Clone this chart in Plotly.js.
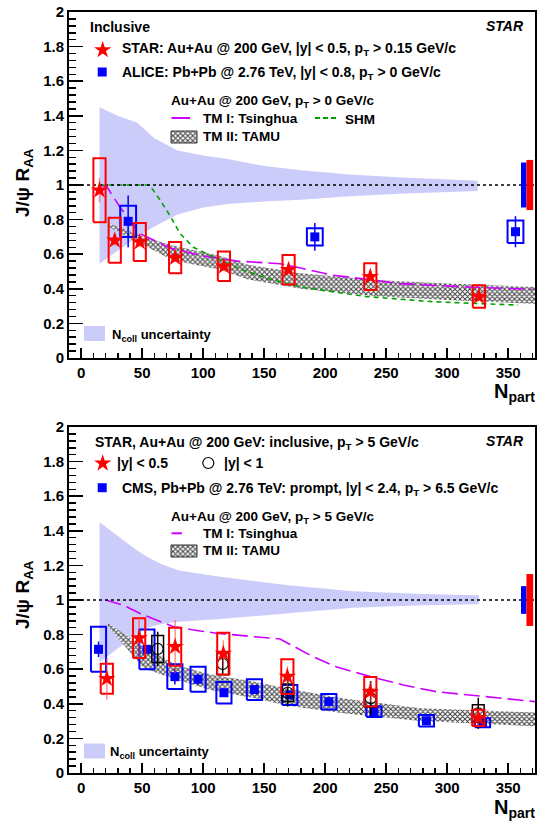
<!DOCTYPE html>
<html>
<head>
<meta charset="utf-8">
<script src="https://cdn.plot.ly/plotly-3.0.1.min.js"></script>
<style>
  html, body { margin: 0; padding: 0; background: #ffffff; }
  #chart { width: 538px; height: 822px; }
</style>
</head>
<body>
<div id="chart"></div>
<script>
// ---------------- Upper panel: inclusive J/psi ----------------
// STAR Au+Au 200 GeV, |y|<0.5, pT>0.15 GeV/c
const starInclNpart = [15, 27.5, 48, 77, 117, 170, 237, 326];
const starInclRaa   = [0.97, 0.68, 0.67, 0.58, 0.53, 0.51, 0.47, 0.355];
const starInclStat  = [0.07, 0.03, 0.03, 0.025, 0.02, 0.02, 0.02, 0.02];
const starInclSys   = [0.185, 0.13, 0.11, 0.09, 0.085, 0.085, 0.077, 0.065];

// ALICE Pb+Pb 2.76 TeV, |y|<0.8, pT>0
const aliceNpart = [38.5, 191.5, 356];
const aliceRaa   = [0.79, 0.70, 0.73];
const aliceStat  = [0.15, 0.08, 0.09];
const aliceSys   = [0.09, 0.05, 0.065];

// Model curves, pT > 0
const tsingLowNpart = [15, 21, 32, 48, 73, 100, 128, 163, 180, 205, 245, 261, 316, 370];
const tsingLowRaa   = [1.0, 0.99, 0.87, 0.72, 0.635, 0.59, 0.56, 0.545, 0.52, 0.48, 0.445, 0.43, 0.41, 0.397];

const shmNpart = [15, 56, 65, 73, 81, 92, 108, 134, 155, 180, 234, 289, 358];
const shmRaa   = [1.0, 1.0, 0.91, 0.82, 0.72, 0.64, 0.585, 0.505, 0.455, 0.41, 0.355, 0.325, 0.306];

const tamuLowNpart = [22, 48, 75, 114, 136, 180, 245, 300, 375];
const tamuLowHigh  = [0.78, 0.71, 0.65, 0.59, 0.54, 0.49, 0.45, 0.43, 0.41];
const tamuLowLow   = [0.76, 0.665, 0.565, 0.51, 0.455, 0.40, 0.355, 0.335, 0.312];

// N_coll uncertainty band around unity
const ncollLowNpart = [15, 30, 46, 60, 79, 100, 120, 150, 180, 220, 260, 300, 325];
const ncollLowHigh  = [1.45, 1.40, 1.36, 1.27, 1.20, 1.17, 1.15, 1.11, 1.085, 1.06, 1.045, 1.03, 1.025];
const ncollLowLow   = [0.545, 0.62, 0.70, 0.76, 0.83, 0.87, 0.89, 0.905, 0.915, 0.935, 0.95, 0.96, 0.965];

// Global uncertainties drawn at unity
const globalAliceLow = 0.13;
const globalStarLow  = 0.145;

// ---------------- Lower panel: high-pT J/psi ----------------
// STAR, |y|<0.5, pT>5 GeV/c
const starHighNpart = [21, 47.5, 77, 116.5, 169, 237, 325.5];
const starHighRaa   = [0.545, 0.78, 0.73, 0.69, 0.557, 0.47, 0.318];
const starHighStat  = [0.12, 0.12, 0.155, 0.077, 0.06, 0.06, 0.05];
const starHighSys   = [0.087, 0.115, 0.11, 0.12, 0.10, 0.085, 0.047];

// STAR, |y|<1, pT>5 GeV/c
const starWideNpart = [62.7, 116, 169.3, 237.3, 325.5];
const starWideRaa   = [0.717, 0.63, 0.464, 0.432, 0.345];
const starWideStat  = [0.10, 0.06, 0.08, 0.10, 0.09];
const starWideSys   = [0.078, 0.062, 0.05, 0.05, 0.05];

// CMS prompt J/psi, |y|<2.4, pT>6.5 GeV/c
const cmsNpart = [14.2, 53.9, 76.8, 95.8, 117, 142, 171, 203, 240, 283, 329];
const cmsRaa   = [0.715, 0.715, 0.557, 0.542, 0.464, 0.482, 0.451, 0.412, 0.354, 0.302, 0.29];
const cmsStat  = [0.045, 0.02, 0.045, 0.03, 0.025, 0.02, 0.02, 0.015, 0.015, 0.012, 0.012];
const cmsSys   = [0.13, 0.115, 0.072, 0.072, 0.062, 0.06, 0.058, 0.045, 0.03, 0.033, 0.026];

// Model curves, pT > 5 GeV/c
const tsingHighNpart = [20, 34.5, 48, 62, 75.5, 92, 111, 141, 163, 190, 209, 237, 264, 291, 319, 373];
const tsingHighRaa   = [1.0, 0.97, 0.923, 0.884, 0.846, 0.827, 0.808, 0.788, 0.775, 0.672, 0.614, 0.557, 0.509, 0.47, 0.451, 0.412];

const tamuHighNpart = [22, 51, 78, 106, 144, 168, 215, 278, 373];
const tamuHighHigh  = [0.865, 0.73, 0.625, 0.57, 0.525, 0.49, 0.43, 0.375, 0.35];
const tamuHighLow   = [0.85, 0.605, 0.54, 0.48, 0.43, 0.39, 0.345, 0.30, 0.27];

const ncollHighNpart = [15, 30, 45, 54, 65, 80, 114, 168, 223, 280, 326];
const ncollHighHigh  = [1.45, 1.37, 1.29, 1.25, 1.21, 1.17, 1.135, 1.087, 1.05, 1.035, 1.028];
const ncollHighLow   = [0.64, 0.72, 0.80, 0.84, 0.86, 0.875, 0.89, 0.92, 0.955, 0.97, 0.975];

const globalCmsHigh  = 0.08;
const globalStarHigh = 0.15;

// Axis tick values
const xTicks = [0, 50, 100, 150, 200, 250, 300, 350];
const yTicks = [0, 0.2, 0.4, 0.6, 0.8, 1, 1.2, 1.4, 1.6, 1.8, 2];

// ---------------- styling ----------------
const FONT = 'Liberation Sans, Arial, Helvetica, sans-serif';
const RED = '#ff0000', BLUE = '#0000ff', MAGENTA = '#cc00ff', GREEN = '#00a000';
const LAVENDER = '#ccccfa';
const HATCH = {shape: 'x', fgcolor: '#404040', bgcolor: '#ffffff', size: 3.5, solidity: 0.5};

// page geometry (plot area in pixels)
const L = 69, R = 535, T = 12, B = 773;
const W = 538, H = 822;

function bandTrace(xs, hi, lo, xa, ya, extra) {
  return Object.assign({
    type: 'scatter', mode: 'lines', xaxis: xa, yaxis: ya,
    x: xs.concat(xs.slice().reverse()),
    y: hi.concat(lo.slice().reverse()),
    fill: 'toself', line: {width: 0}, hoverinfo: 'skip', showlegend: false
  }, extra);
}

function curveTrace(xs, ys, color, dash, xa, ya) {
  return {type: 'scatter', mode: 'lines', x: xs, y: ys, xaxis: xa, yaxis: ya,
    line: {color: color, width: 1.6, dash: dash}, hoverinfo: 'skip', showlegend: false};
}

function boxTrace(xs, ys, sys, hw, color, width, xa, ya) {
  const x = [], y = [];
  xs.forEach((n, i) => {
    const lo = ys[i] - sys[i], hi = ys[i] + sys[i];
    x.push(n - hw, n + hw, n + hw, n - hw, n - hw, null);
    y.push(lo, lo, hi, hi, lo, null);
  });
  return {type: 'scatter', mode: 'lines', x: x, y: y, xaxis: xa, yaxis: ya,
    line: {color: color, width: width}, hoverinfo: 'skip', showlegend: false};
}

function pointTrace(xs, ys, stat, symbol, size, color, errColor, xa, ya, lineW) {
  return {type: 'scatter', mode: 'markers', x: xs, y: ys, xaxis: xa, yaxis: ya,
    marker: {symbol: symbol, size: size, color: color, line: {color: color, width: lineW || 0}},
    error_y: {type: 'data', array: stat, visible: true, color: errColor, thickness: 1.5, width: 0},
    hoverinfo: 'skip', showlegend: false};
}

function unityTrace(xa, ya) {
  return {type: 'scatter', mode: 'lines', x: [-10, 372], y: [1, 1], xaxis: xa, yaxis: ya,
    line: {color: 'black', width: 1.5, dash: '3px,3px'}, hoverinfo: 'skip', showlegend: false};
}

function globalBar(x0, x1, unc, color, xa, ya) {
  return {type: 'scatter', mode: 'lines', xaxis: xa, yaxis: ya,
    x: [x0, x1, x1, x0, x0], y: [1 - unc, 1 - unc, 1 + unc, 1 + unc, 1 - unc],
    fill: 'toself', fillcolor: color, line: {width: 0}, hoverinfo: 'skip', showlegend: false};
}

// legend swatches live on an overlay axis pair measured in page pixels
function swatchRect(x0, y0, x1, y1, extra) {
  return Object.assign({type: 'scatter', mode: 'lines', xaxis: 'x3', yaxis: 'y3',
    x: [x0, x1, x1, x0, x0], y: [y0, y0, y1, y1, y0], fill: 'toself',
    line: {width: 0}, hoverinfo: 'skip', showlegend: false}, extra);
}
function swatchMarker(x, y, symbol, size, color, lineW) {
  return {type: 'scatter', mode: 'markers', xaxis: 'x3', yaxis: 'y3', x: [x], y: [y],
    marker: {symbol: symbol, size: size, color: color, line: {color: color, width: lineW || 0}},
    hoverinfo: 'skip', showlegend: false};
}
function swatchLine(x0, x1, y, color, dash) {
  return {type: 'scatter', mode: 'lines', xaxis: 'x3', yaxis: 'y3', x: [x0, x1], y: [y, y],
    line: {color: color, width: 2, dash: dash}, hoverinfo: 'skip', showlegend: false};
}

const STAR_SIZE = 13;
const traces = [
  // upper panel
  bandTrace(ncollLowNpart, ncollLowHigh, ncollLowLow, 'x', 'y', {fillcolor: LAVENDER}),
  bandTrace(tamuLowNpart, tamuLowHigh, tamuLowLow, 'x', 'y', {fillcolor: 'rgba(0,0,0,0)', fillpattern: HATCH}),
  curveTrace(tsingLowNpart, tsingLowRaa, MAGENTA, '16px,6px', 'x', 'y'),
  curveTrace(shmNpart, shmRaa, GREEN, '5px,4px', 'x', 'y'),
  unityTrace('x', 'y'),
  globalBar(360.5, 365, globalAliceLow, BLUE, 'x', 'y'),
  globalBar(365, 370.5, globalStarLow, RED, 'x', 'y'),
  boxTrace(aliceNpart, aliceRaa, aliceSys, 6.5, BLUE, 2, 'x', 'y'),
  pointTrace(aliceNpart, aliceRaa, aliceStat, 'square', 9, BLUE, BLUE, 'x', 'y'),
  boxTrace(starInclNpart, starInclRaa, starInclSys, 5, RED, 2, 'x', 'y'),
  pointTrace(starInclNpart, starInclRaa, starInclStat, 'star', STAR_SIZE, RED, 'rgba(255,70,70,0.6)', 'x', 'y'),

  // lower panel
  bandTrace(ncollHighNpart, ncollHighHigh, ncollHighLow, 'x2', 'y2', {fillcolor: LAVENDER}),
  bandTrace(tamuHighNpart, tamuHighHigh, tamuHighLow, 'x2', 'y2', {fillcolor: 'rgba(0,0,0,0)', fillpattern: HATCH}),
  curveTrace(tsingHighNpart, tsingHighRaa, MAGENTA, '16px,6px', 'x2', 'y2'),
  unityTrace('x2', 'y2'),
  globalBar(360.5, 365, globalCmsHigh, BLUE, 'x2', 'y2'),
  globalBar(365, 370.5, globalStarHigh, RED, 'x2', 'y2'),
  boxTrace(cmsNpart, cmsRaa, cmsSys, 6.2, BLUE, 2, 'x2', 'y2'),
  pointTrace(cmsNpart, cmsRaa, cmsStat, 'square', 9, BLUE, BLUE, 'x2', 'y2'),
  boxTrace(starWideNpart, starWideRaa, starWideSys, 4.8, 'black', 1.5, 'x2', 'y2'),
  pointTrace(starWideNpart, starWideRaa, starWideStat, 'circle-open', 11, 'black', 'black', 'x2', 'y2', 1.2),
  boxTrace(starHighNpart, starHighRaa, starHighSys, 5, RED, 2, 'x2', 'y2'),
  pointTrace(starHighNpart, starHighRaa, starHighStat, 'star', STAR_SIZE, RED, 'rgba(255,70,70,0.6)', 'x2', 'y2'),

  // legend swatches (upper)
  swatchMarker(102.7, 50, 'star', STAR_SIZE, RED),
  swatchMarker(102.2, 72, 'square', 9, BLUE),
  swatchLine(171.5, 190, 118, MAGENTA, 'solid'),
  swatchLine(315, 338, 118, GREEN, '5px,3px'),
  swatchRect(171, 131, 197, 143, {fillcolor: 'rgba(0,0,0,0)', fillpattern: HATCH, line: {color: '#333', width: 1}}),
  swatchRect(84, 326, 105, 341, {fillcolor: LAVENDER}),
  // legend swatches (lower)
  swatchMarker(102.7, 463.3, 'star', STAR_SIZE, RED),
  swatchMarker(208.3, 463, 'circle-open', 11, 'black', 1.2),
  swatchMarker(102.2, 487.7, 'square', 9, BLUE),
  swatchLine(171.5, 182, 533.3, MAGENTA, 'solid'),
  swatchRect(171, 545, 197, 557, {fillcolor: 'rgba(0,0,0,0)', fillpattern: HATCH, line: {color: '#333', width: 1}}),
  swatchRect(84, 743.5, 105, 758.5, {fillcolor: LAVENDER})
];

// text placed by page pixel position
function P(x, y) { return {xref: 'paper', yref: 'paper', x: (x - L) / (R - L), y: (B - y) / (B - T)}; }
function label(x, y, text, size, opts) {
  return Object.assign(P(x, y), {text: text, showarrow: false, xanchor: 'left', yanchor: 'middle',
    font: {family: FONT, size: size, color: 'black'}}, opts || {});
}

const annotations = [
  // upper panel
  label(88, 27, '<b>Inclusive</b>', 14),
  label(526, 26, '<b><i>STAR</i></b>', 14, {xanchor: 'right'}),
  label(120, 49, '<b>STAR: Au+Au @ 200 GeV, |y| &lt; 0.5, p<sub>T</sub> &gt; 0.15 GeV/c</b>', 14),
  label(120, 73, '<b>ALICE: Pb+Pb @ 2.76 TeV, |y| &lt; 0.8, p<sub>T</sub> &gt; 0 GeV/c</b>', 14),
  label(169, 101, '<b>Au+Au @ 200 GeV, p<sub>T</sub> &gt; 0 GeV/c</b>', 13.5),
  label(201, 118, '<b>TM I: Tsinghua</b>', 13.5),
  label(343, 120, '<b>SHM</b>', 13.5),
  label(201, 137, '<b>TM II: TAMU</b>', 13.5),
  label(110, 335, '<b>N<sub>coll</sub> uncertainty</b>', 13),
  label(537, 392, '<b>N<sub>part</sub></b>', 20, {xanchor: 'right'}),
  label(24, 183, '<b>J/ψ R<sub>AA</sub></b>', 19, {xanchor: 'center', textangle: -90}),
  // lower panel
  label(93, 443, '<b>STAR, Au+Au @ 200 GeV: inclusive, p<sub>T</sub> &gt; 5 GeV/c</b>', 14),
  label(526, 441, '<b><i>STAR</i></b>', 14, {xanchor: 'right'}),
  label(115, 463, '<b>|y| &lt; 0.5</b>', 14),
  label(221.7, 463, '<b>|y| &lt; 1</b>', 14),
  label(120, 489, '<b>CMS, Pb+Pb @ 2.76 TeV: prompt, |y| &lt; 2.4, p<sub>T</sub> &gt; 6.5 GeV/c</b>', 14),
  label(169, 517, '<b>Au+Au @ 200 GeV, p<sub>T</sub> &gt; 5 GeV/c</b>', 13.5),
  label(201, 533, '<b>TM I: Tsinghua</b>', 13.5),
  label(201, 551, '<b>TM II: TAMU</b>', 13.5),
  label(108, 752, '<b>N<sub>coll</sub> uncertainty</b>', 13),
  label(537, 808, '<b>N<sub>part</sub></b>', 20, {xanchor: 'right'}),
  label(24, 595, '<b>J/ψ R<sub>AA</sub></b>', 19, {xanchor: 'center', textangle: -90})
];

const tickFont = {family: FONT, size: 15, color: 'black', weight: 'bold'};
function xAxis(anchor) {
  return {domain: [0, 1], anchor: anchor, range: [-10, 372], tickmode: 'array', tickvals: xTicks,
    ticks: 'inside', ticklen: 10, tickwidth: 1.5, tickcolor: 'black',
    minor: {ticks: 'inside', ticklen: 5, dtick: 10, tick0: 0, tickwidth: 1.5, tickcolor: 'black', showgrid: false},
    showline: true, linewidth: 2, linecolor: 'black', mirror: true,
    showgrid: false, zeroline: false, tickfont: tickFont, fixedrange: true};
}
function yAxis(anchor, domain) {
  return {domain: domain, anchor: anchor, range: [0, 2], tickmode: 'array', tickvals: yTicks,
    ticks: 'inside', ticklen: 14, tickwidth: 1.5, tickcolor: 'black',
    minor: {ticks: 'inside', ticklen: 7, dtick: 0.04, tick0: 0, tickwidth: 1.5, tickcolor: 'black', showgrid: false},
    showline: true, linewidth: 2, linecolor: 'black', mirror: true,
    showgrid: false, zeroline: false, tickfont: tickFont, fixedrange: true};
}

const topBottomPx = 358, lowTopPx = 427;
const layout = {
  width: W, height: H,
  margin: {l: L, r: W - R, t: T, b: H - B, pad: 0},
  paper_bgcolor: '#ffffff', plot_bgcolor: 'rgba(0,0,0,0)',
  showlegend: false,
  xaxis: xAxis('y'),
  yaxis: yAxis('x', [(B - topBottomPx) / (B - T), 1]),
  xaxis2: xAxis('y2'),
  yaxis2: yAxis('x2', [0, (B - lowTopPx) / (B - T)]),
  xaxis3: {domain: [0, 1], anchor: 'y3', range: [L, R], visible: false, fixedrange: true},
  yaxis3: {domain: [0, 1], anchor: 'x3', range: [B, T], visible: false, fixedrange: true},
  annotations: annotations
};

Plotly.newPlot('chart', traces, layout, {staticPlot: true, displayModeBar: false});
</script>
</body>
</html>
